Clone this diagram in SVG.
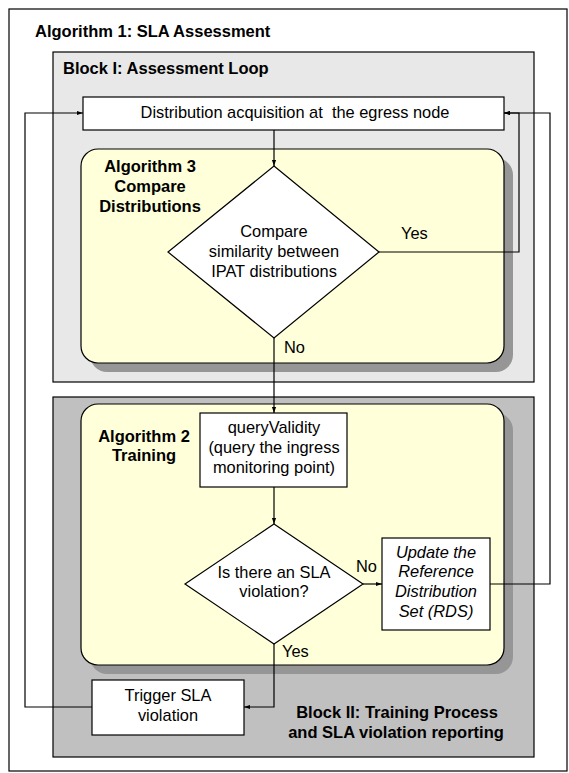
<svg xmlns="http://www.w3.org/2000/svg" width="569" height="773" viewBox="0 0 569 773">
<defs>
<style>
text{font-family:"Liberation Sans",Arial,sans-serif;fill:#000}
.t{font-size:16.4px;text-anchor:middle}
.b{font-size:16.5px;font-weight:bold}
.bc{font-size:16.5px;font-weight:bold;text-anchor:middle}
.it{font-style:italic}
.box{fill:#fff;stroke:#000;stroke-width:1.2}
.alg{fill:#ffffd9;stroke:#000;stroke-width:1.2}
.sh{fill:#969696}
.ln{fill:none;stroke:#000;stroke-width:1.2}
</style>
<marker id="ah" viewBox="0 0 10 10" refX="10" refY="5" markerWidth="6" markerHeight="6" orient="auto" markerUnits="userSpaceOnUse">
<path d="M0,1.5 L10,5 L0,8.5 z" fill="#000"/>
</marker>
</defs>
<rect width="569" height="773" fill="#fff"/>
<g id="algorithm1">
<rect x="9" y="9" width="558" height="762" fill="#fff" stroke="#000" stroke-width="1.2"/>
<text class="b" x="35" y="37">Algorithm 1: SLA Assessment</text>
</g>
<g id="blockI">
<rect x="53" y="52" width="481" height="330" fill="#e8e8e8" stroke="#000" stroke-width="1.2"/>
<text class="b" x="63" y="74">Block I: Assessment Loop</text>
</g>
<g id="blockII">
<rect x="53" y="397" width="481" height="360" fill="#c0c0c0" stroke="#000" stroke-width="1.2"/>
<text class="bc" x="397" y="718">Block II: Training Process</text>
<text class="bc" x="396" y="738">and SLA violation reporting</text>
</g>
<g id="algorithm3">
<rect class="sh" x="90" y="158" width="423" height="214" rx="17"/>
<rect class="alg" x="81" y="149" width="423" height="214" rx="17"/>
<text class="bc" x="150" y="172">Algorithm 3</text>
<text class="bc" x="150" y="192">Compare</text>
<text class="bc" x="150" y="212">Distributions</text>
</g>
<g id="algorithm2">
<rect class="sh" x="90" y="413" width="423" height="261" rx="17"/>
<rect class="alg" x="81" y="404" width="423" height="261" rx="17"/>
<text class="bc" x="144" y="442">Algorithm 2</text>
<text class="bc" x="144" y="461">Training</text>
</g>
<g id="distribution">
<rect class="box" x="83" y="97" width="421" height="33"/>
<text class="t" x="295" y="118" xml:space="preserve">Distribution acquisition at  the egress node</text>
</g>
<g id="compare">
<polygon class="box" points="274,166 379,252 274,338 168,252"/>
<text class="t" x="274" y="237">Compare</text>
<text class="t" x="274" y="257">similarity between</text>
<text class="t" x="274" y="277">IPAT distributions</text>
</g>
<g id="query">
<rect class="box" x="200" y="413" width="147" height="74"/>
<text class="t" x="274" y="433">queryValidity</text>
<text class="t" x="274" y="453">(query the ingress</text>
<text class="t" x="274" y="473">monitoring point)</text>
</g>
<g id="violation">
<polygon class="box" points="274,524 363,584 274,644 185,584"/>
<text class="t" x="274" y="578">Is there an SLA</text>
<text class="t" x="274" y="597">violation?</text>
</g>
<g id="rds">
<rect class="box" x="382" y="538" width="108" height="92"/>
<text class="t it" x="436" y="558">Update the</text>
<text class="t it" x="436" y="577">Reference</text>
<text class="t it" x="436" y="597">Distribution</text>
<text class="t it" x="436" y="617">Set (RDS)</text>
</g>
<g id="trigger">
<rect class="box" x="92" y="680" width="152" height="55"/>
<text class="t" x="168" y="701">Trigger SLA</text>
<text class="t" x="168" y="721">violation</text>
</g>
<g id="connectors">
<path class="ln" d="M274,130 L274,166" marker-end="url(#ah)"/>
<path class="ln" d="M379,252 L519,252 L519,113 L504,113" marker-end="url(#ah)"/>
<path class="ln" d="M274,338 L274,413" marker-end="url(#ah)"/>
<path class="ln" d="M274,487 L274,524" marker-end="url(#ah)"/>
<path class="ln" d="M363,584 L382,584" marker-end="url(#ah)"/>
<path class="ln" d="M490,584 L550,584 L550,113 L504,113" marker-end="url(#ah)"/>
<path class="ln" d="M274,644 L274,707 L244,707" marker-end="url(#ah)"/>
<path class="ln" d="M92,707 L25,707 L25,113 L83,113" marker-end="url(#ah)"/>
<text class="t" x="401" y="239" style="text-anchor:start">Yes</text>
<text class="t" x="284" y="353" style="text-anchor:start">No</text>
<text class="t" x="356" y="572" style="text-anchor:start">No</text>
<text class="t" x="282" y="657" style="text-anchor:start">Yes</text>
</g>
</svg>
